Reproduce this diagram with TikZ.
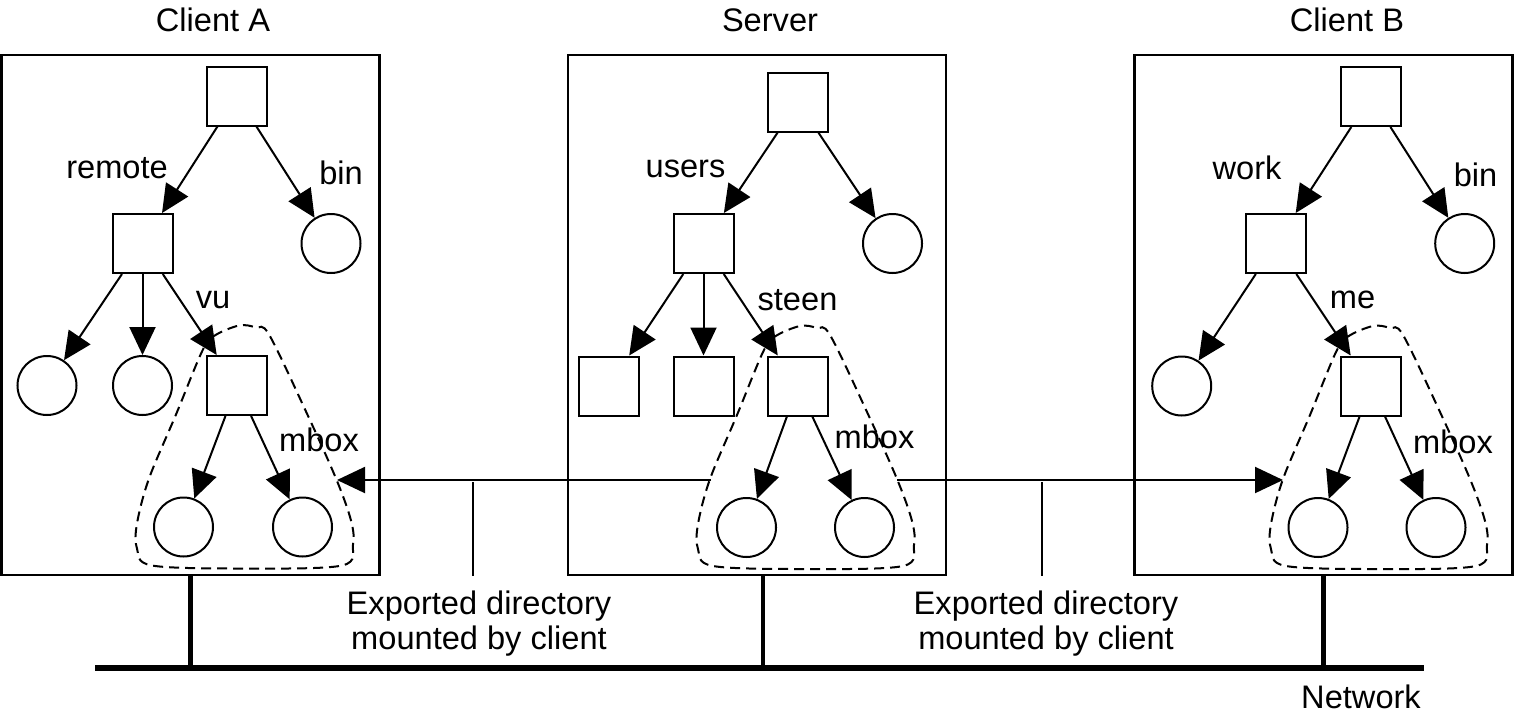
\documentclass[tikz,border=0pt]{standalone}
\usepackage{fontspec}
\setmainfont{Liberation Sans}
\usetikzlibrary{arrows.meta,calc}
\newcommand\mountloop[1]{%
  \begin{scope}[shift={(#1)}]
    \draw[mountline] plot[smooth cycle, tension=0.55] coordinates {(2,-60) (-23,-49.5) (-35,-34) (-61,29) (-88,93) (-100,138) (-100,163) (-85,180) (9,183) (105,180) (116,159) (114,135) (99,93) (69,26) (32,-51) (19,-58)};
  \end{scope}}
\begin{document}
\begin{tikzpicture}[x=0.5pt,y=-0.5pt,
  every node/.style={font=\fontsize{16.3pt}{17.5pt}\selectfont, inner sep=0pt},
  dirbox/.style={draw, line width=1pt, minimum width=30pt, minimum height=29.5pt},
  filebox/.style={draw, circle, line width=1pt, minimum size=29.5pt},
  hostbox/.style={draw, line width=1.2pt, minimum width=189pt, minimum height=260pt},
  edge/.style={line width=1pt, -{Triangle[length=14pt,width=13pt]}},
  mountline/.style={dash pattern=on 5pt off 3pt, line width=1pt},
  tickline/.style={line width=0.8pt},
  netline/.style={line width=3pt},
  dropline/.style={line width=2.2pt}
]
\useasboundingbox (0,0) rectangle (1514,718);

% host boxes
\node[hostbox] (Abox) at (190.5,315) {};
\node[hostbox] (Sbox) at (757,315) {};
\node[hostbox] (Bbox) at (1323.5,315) {};

% titles
\node (Atitle) at (213,20) {Client A};
\node (Stitle) at (770,20) {Server};
\node (Btitle) at (1347,20) {Client B};

% ---- Client A tree
\node[dirbox] (Aroot) at (237,96) {};
\node[dirbox] (Aremote) at (142.5,243.5) {};
\node[filebox] (Abin) at (331,243.5) {};
\node[filebox] (Ac1) at (47,385.5) {};
\node[filebox] (Ac2) at (142.5,385.5) {};
\node[dirbox] (Avu) at (237,385.5) {};
\node[filebox] (Am1) at (183.5,527) {};
\node[filebox] (Am2) at (302.5,527) {};
\draw[edge] (Aroot) -- (Aremote);
\draw[edge] (Aroot) -- (Abin);
\draw[edge] (Aremote) -- (Ac1);
\draw[edge] (Aremote) -- (Ac2);
\draw[edge] (Aremote) -- (Avu);
\draw[edge] (Avu) -- (Am1);
\draw[edge] (Avu) -- (Am2);
\node (Lremote) at (117,168) {remote};
\node (LAbin) at (341,173) {bin};
\node (Lvu) at (213,300) {vu};
\node (LAmbox) at (319,440) {mbox};
\mountloop{Avu}

% ---- Server tree
\node[dirbox] (Sroot) at (798,102) {};
\node[dirbox] (Susers) at (703.5,243.5) {};
\node[filebox] (Sc) at (892.5,243.5) {};
\node[dirbox] (Sd1) at (609,386) {};
\node[dirbox] (Sd2) at (703.5,386) {};
\node[dirbox] (Ssteen) at (798,386) {};
\node[filebox] (Sm1) at (746.5,527.5) {};
\node[filebox] (Sm2) at (864.5,527.5) {};
\draw[edge] (Sroot) -- (Susers);
\draw[edge] (Sroot) -- (Sc);
\draw[edge] (Susers) -- (Sd1);
\draw[edge] (Susers) -- (Sd2);
\draw[edge] (Susers) -- (Ssteen);
\draw[edge] (Ssteen) -- (Sm1);
\draw[edge] (Ssteen) -- (Sm2);
\node (Lusers) at (685.5,169) {users};
\node (Lsteen) at (797.5,300) {steen};
\node (LSmbox) at (874.5,436.5) {mbox};
\mountloop{Ssteen}

% ---- Client B tree
\node[dirbox] (Broot) at (1371,96.5) {};
\node[dirbox] (Bwork) at (1276,243.5) {};
\node[filebox] (Bbin) at (1464.7,243.5) {};
\node[filebox] (Bc1) at (1181.7,386) {};
\node[dirbox] (Bme) at (1371,386) {};
\node[filebox] (Bm1) at (1318,527.5) {};
\node[filebox] (Bm2) at (1436,527.5) {};
\draw[edge] (Broot) -- (Bwork);
\draw[edge] (Broot) -- (Bbin);
\draw[edge] (Bwork) -- (Bc1);
\draw[edge] (Bwork) -- (Bme);
\draw[edge] (Bme) -- (Bm1);
\draw[edge] (Bme) -- (Bm2);
\node (Lwork) at (1247,168) {work};
\node (LBbin) at (1475.5,174.5) {bin};
\node (Lme) at (1352.5,300) {me};
\node (LBmbox) at (1453,441.5) {mbox};
\mountloop{Bme}

% ---- mount arrows
\coordinate (Aport) at ($(Avu)+(100,94.5)$);
\coordinate (SportL) at ($(Ssteen)+(-87,94)$);
\coordinate (SportR) at ($(Ssteen)+(99,94)$);
\coordinate (Bport) at ($(Bme)+(-88,94)$);
\draw[edge] (SportL) -- (Aport);
\draw[edge] (SportR) -- (Bport);
\coordinate (tickA) at (473,482);
\coordinate (tickB) at (1042,482);
\draw[tickline] (tickA) -- (tickA |- Abox.south);
\draw[tickline] (tickB) -- (tickB |- Abox.south);
\node[align=center] (expA) at (479,624) {Exported directory\\mounted by client};
\node[align=center] (expB) at (1046,624) {Exported directory\\mounted by client};

% ---- network
\coordinate (netL) at (95,668);
\coordinate (netR) at (1424,668);
\draw[netline] (netL) -- (netR);
\coordinate (Sdrop) at (763,575);
\draw[dropline] (Abox.south) -- (Abox.south |- netL);
\draw[dropline] (Sdrop) -- (Sdrop |- netL);
\draw[dropline] (Bbox.south) -- (Bbox.south |- netL);
\node (Lnet) at (1361,697) {Network};
\end{tikzpicture}
\end{document}
